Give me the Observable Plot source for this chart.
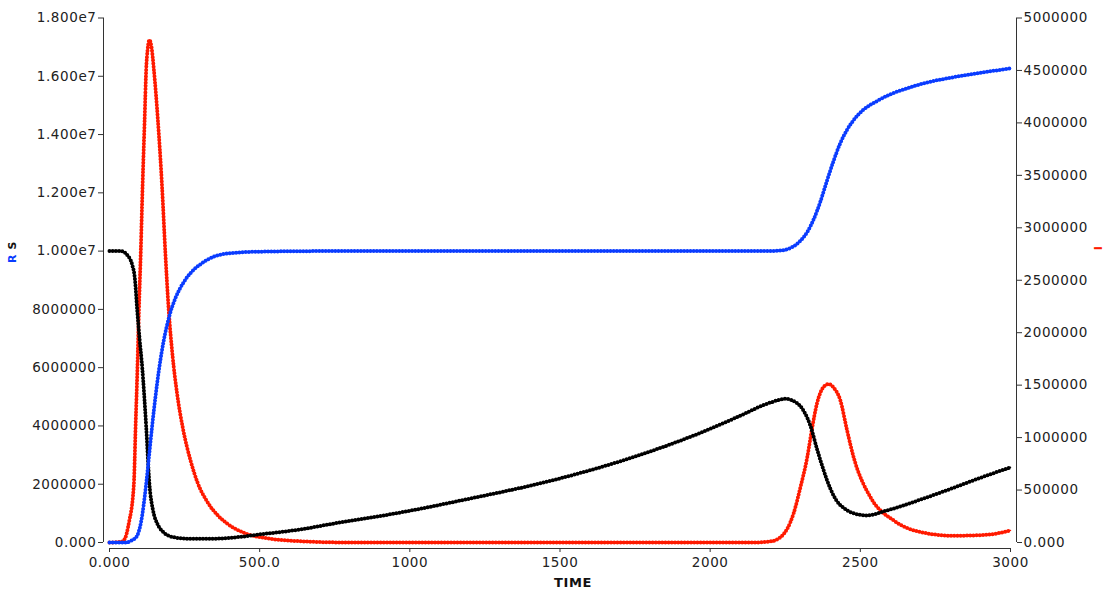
<!DOCTYPE html>
<html>
<head>
<meta charset="utf-8">
<script src="https://cdn.jsdelivr.net/npm/d3@7"></script>
<script src="https://cdn.jsdelivr.net/npm/@observablehq/plot@0.6"></script>
<style>
  html, body { margin: 0; padding: 0; background: #fff; }
  svg text { letter-spacing: 0.6px; }
</style>
</head>
<body>
<div id="chart"></div>
<script>
// ---- Data (values in millions) ----
// S (black, left axis)
const sTime = [0,40,60,75,85,92,100,109,122,133,145,159,180,214,260,350,413,503,636,746,969,1169,1500,1750,2000,2100,2200,2251,2290,2311,2334,2356,2378,2400,2420,2445,2478,2523,2589,2700,2811,2900,3000];
const sVals = [10.0,10.0,9.85,9.55,9.0,8.0,7.0,6.0,4.0,2.0,1.1,0.65,0.35,0.18,0.13,0.13,0.17,0.28,0.45,0.65,1.03,1.44,2.2,2.95,3.9,4.35,4.8,4.93,4.78,4.52,4.0,3.2,2.47,1.85,1.45,1.18,1.0,0.93,1.1,1.47,1.88,2.22,2.58];
// R (blue, left axis)
const rTime = [0,55,70,90,105,122,132,142,153,165,180,200,220,245,270,303,350,413,500,700,1500,2200,2234,2270,2300,2323,2345,2367,2390,2411,2433,2455,2478,2510,2556,2600,2645,2720,2811,2900,3000];
const rVals = [0,0,0.05,0.2,0.7,2.0,3.0,4.0,5.0,5.95,6.9,7.8,8.4,8.9,9.25,9.55,9.82,9.94,9.98,10.0,10.0,10.0,10.02,10.12,10.35,10.65,11.1,11.7,12.45,13.1,13.7,14.15,14.5,14.85,15.15,15.38,15.55,15.78,15.97,16.12,16.27];
// I (red, right axis)
const iTime = [0,37,50,64,81,87,93,98,104,110,117,122,127,133,140,148,161,175,186,197,210,225,245,270,292,325,360,392,450,525,650,800,2150,2200,2234,2278,2300,2323,2340,2356,2380,2395,2410,2434,2455,2478,2534,2611,2700,2811,2922,3000];
const iVals = [0,0.005,0.03,0.18,0.55,1.12,1.67,2.22,2.76,3.39,4.03,4.5,4.7,4.79,4.72,4.5,4.03,3.39,2.76,2.22,1.78,1.42,1.08,0.78,0.58,0.39,0.26,0.18,0.09,0.04,0.01,0,0,0.01,0.05,0.28,0.52,0.81,1.1,1.33,1.49,1.51,1.48,1.35,1.08,0.81,0.43,0.21,0.1,0.064,0.074,0.115];

// Axes
const xTicks = [0,500,1000,1500,2000,2500,3000];
const xTickLabels = ["0.000","500.0","1000","1500","2000","2500","3000"];
const leftTicks = [0,2e6,4e6,6e6,8e6,1e7,1.2e7,1.4e7,1.6e7,1.8e7];
const leftTickLabels = ["0.000","2000000","4000000","6000000","8000000","1.000e7","1.200e7","1.400e7","1.600e7","1.800e7"];
const rightTicks = [0,500000,1000000,1500000,2000000,2500000,3000000,3500000,4000000,4500000,5000000];
const rightTickLabels = ["0.000","500000","1000000","1500000","2000000","2500000","3000000","3500000","4000000","4500000","5000000"];
const LEFT_MAX = 1.8e7, RIGHT_MAX = 5e6;

// ---- Build tables ----
const M = 1e6;
const sData = sTime.map((t, k) => ({t, v: sVals[k] * M}));
const rData = rTime.map((t, k) => ({t, v: rVals[k] * M}));
const iData = iTime.map((t, k) => ({t, v: iVals[k] * M * LEFT_MAX / RIGHT_MAX}));
const rightPos = rightTicks.map(v => v * LEFT_MAX / RIGHT_MAX);

function series(data, color) {
  return [
    Plot.line(data, {x: "t", y: "v", stroke: color, strokeWidth: 1.4, curve: "monotone-x"}),
    Plot.line(data, {x: "t", y: "v", stroke: color, strokeWidth: 4, strokeDasharray: "0 3.2", strokeLinecap: "round", curve: "monotone-x"})
  ];
}

const chart = Plot.plot({
  width: 1104,
  height: 592,
  marginLeft: 109,
  marginRight: 94,
  marginTop: 17.5,
  marginBottom: 50,
  style: {fontFamily: "DejaVu Sans, Verdana, sans-serif", fontSize: "13.5px", color: "#222", background: "#fff"},
  x: {domain: [0, 3000], axis: null},
  y: {domain: [0, LEFT_MAX], axis: null},
  marks: [
    // axis lines
    Plot.ruleX([0], {y1: 0, y2: LEFT_MAX, dx: -6, stroke: "#333"}),
    Plot.ruleX([3000], {y1: 0, y2: LEFT_MAX, dx: 6, stroke: "#333"}),
    Plot.ruleY([0], {x1: 0, x2: 3000, dy: 6, stroke: "#333"}),
    Plot.axisY(leftTicks, {anchor: "left", dx: -6, tickSize: 5, tickPadding: 2, stroke: "#333", fill: "#222", label: null,
      tickFormat: d => leftTickLabels[leftTicks.indexOf(d)]}),
    Plot.axisY(rightPos, {anchor: "right", dx: 6, tickSize: 5, tickPadding: 2, stroke: "#333", fill: "#222", label: null,
      tickFormat: d => rightTickLabels[rightPos.indexOf(d)]}),
    Plot.axisX(xTicks, {anchor: "bottom", dy: 6, tickSize: 4, tickPadding: 5, stroke: "#333", fill: "#222", label: null,
      tickFormat: d => xTickLabels[xTicks.indexOf(d)]}),
    ...series(iData, "#ff1a00"),
    ...series(sData, "#000000"),
    ...series(rData, "#0a3cff")
  ]
});

const svg = d3.select(chart);
// Axis titles
svg.append("text")
  .attr("x", 573).attr("y", 587)
  .attr("text-anchor", "middle")
  .attr("font-weight", "bold").attr("font-size", "13px").attr("fill", "#111")
  .text("TIME");
const yl = svg.append("text")
  .attr("transform", "translate(16,252) rotate(-90)")
  .attr("text-anchor", "middle")
  .attr("font-weight", "bold").attr("font-size", "11px");
yl.append("tspan").attr("fill", "#0a3cff").text("R");
yl.append("tspan").attr("fill", "#0a3cff").text(" ");
yl.append("tspan").attr("fill", "#111").text("S");
svg.append("text")
  .attr("transform", "translate(1102,248) rotate(-90)")
  .attr("text-anchor", "middle")
  .attr("font-weight", "bold").attr("font-size", "11px").attr("fill", "#ff1a00")
  .text("I");

document.getElementById("chart").appendChild(chart);
</script>
</body>
</html>
